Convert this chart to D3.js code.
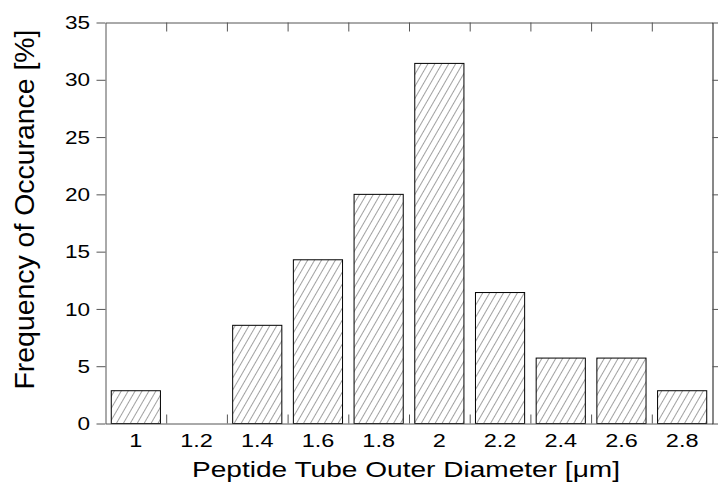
<!DOCTYPE html>
<html>
<head>
<meta charset="utf-8">
<script src="https://cdn.jsdelivr.net/npm/d3@7"></script>
<style>
  body { margin: 0; background: #fff; }
  svg { display: block; font-family: "Liberation Sans", Arial, sans-serif; }
</style>
</head>
<body>
<svg id="chart" width="718" height="489"></svg>
<script>
// diameters (bin centres) and frequency in percent
var diameters = [1.0, 1.2, 1.4, 1.6, 1.8, 2.0, 2.2, 2.4, 2.6, 2.8];
var frequency = [2.86, 0, 8.57, 14.29, 20.0, 31.43, 11.43, 5.71, 5.71, 2.86];
var xTickLabels = ["1", "1.2", "1.4", "1.6", "1.8", "2", "2.2", "2.4", "2.6", "2.8"];
var yTicks = [0, 5, 10, 15, 20, 25, 30, 35];

var plotLeft = 105.5, plotRight = 712.5, plotTop = 22.5, plotBottom = 423.5;
var stretch = 1.22; // the original tick text is wider than plain Arial

var svg = d3.select("#chart");

// hatch pattern for the bars
var defs = svg.append("defs");
defs.append("pattern")
    .attr("id", "hatch")
    .attr("patternUnits", "userSpaceOnUse")
    .attr("width", 6)
    .attr("height", 6)
    .attr("patternTransform", "rotate(30)")
  .append("line")
    .attr("x1", 0).attr("y1", 0)
    .attr("x2", 0).attr("y2", 6)
    .attr("stroke", "#444")
    .attr("stroke-width", 1);

var x = d3.scaleLinear().domain([0.9, 2.9]).range([plotLeft, plotRight]);
var y = d3.scaleLinear().domain([0, 35]).range([plotBottom, plotTop]);

var binW = x(1.1) - x(0.9);
var barW = binW * 0.81;

// bars
svg.selectAll(".bar")
    .data(diameters.map(function(d, i) { return { d: d, v: frequency[i] }; })
        .filter(function(d) { return d.v > 0; }))
    .enter().append("rect")
    .attr("class", "bar")
    .attr("x", function(d) { return x(d.d) - barW / 2; })
    .attr("y", function(d) { return y(d.v); })
    .attr("width", barW)
    .attr("height", function(d) { return y(0) - y(d.v); })
    .attr("fill", "url(#hatch)")
    .attr("stroke", "#000")
    .attr("stroke-width", 1);

// bin boundaries for x ticks
var boundaries = diameters.slice(0, -1).map(function(d) { return +(d + 0.1).toFixed(2); });

// frame axes (labels drawn separately)
var bottomAxis = d3.axisBottom(x).tickValues(boundaries).tickSizeInner(-9).tickSizeOuter(0).tickFormat("");
var topAxis = d3.axisTop(x).tickValues(boundaries).tickSizeInner(-9).tickSizeOuter(0).tickFormat("");
var leftAxis = d3.axisLeft(y).tickValues(yTicks).tickSizeInner(9).tickSizeOuter(0).tickFormat("");
var rightAxis = d3.axisRight(y).tickValues(yTicks).tickSizeInner(9).tickSizeOuter(0).tickFormat("");

function styleAxis(g) {
    g.select(".domain").attr("stroke", "#555");
    g.selectAll(".tick line").attr("stroke", "#555");
}

svg.append("g").attr("transform", "translate(0," + plotBottom + ")").call(bottomAxis).call(styleAxis);
svg.append("g").attr("transform", "translate(0," + plotTop + ")").call(topAxis).call(styleAxis);
svg.append("g").attr("transform", "translate(" + plotLeft + ",0)").call(leftAxis).call(styleAxis);
svg.append("g").attr("transform", "translate(" + plotRight + ",0)").call(rightAxis).call(styleAxis)
    .select(".domain").attr("stroke", "#111");

// y tick labels
svg.selectAll(".ylab")
    .data(yTicks)
    .enter().append("text")
    .attr("class", "ylab")
    .attr("transform", function(d) { return "translate(90," + y(d) + ") scale(" + stretch + ",1)"; })
    .attr("dy", "0.36em")
    .attr("text-anchor", "end")
    .attr("font-size", 18.5)
    .text(function(d) { return d; });

// x tick labels at bin centres
svg.selectAll(".xlab")
    .data(diameters)
    .enter().append("text")
    .attr("class", "xlab")
    .attr("transform", function(d) { return "translate(" + x(d) + "," + (plotBottom + 23) + ") scale(1.27,1)"; })
    .attr("text-anchor", "middle")
    .attr("font-size", 18.5)
    .text(function(d, i) { return xTickLabels[i]; });

// axis titles
svg.append("text")
    .attr("x", 406)
    .attr("y", 476.5)
    .attr("text-anchor", "middle")
    .attr("font-size", 22)
    .attr("textLength", 428)
    .attr("lengthAdjust", "spacingAndGlyphs")
    .text("Peptide Tube Outer Diameter [\u03bcm]");

svg.append("text")
    .attr("transform", "translate(33.5,209.5) rotate(-90)")
    .attr("text-anchor", "middle")
    .attr("font-size", 28.5)
    .attr("textLength", 360)
    .attr("lengthAdjust", "spacingAndGlyphs")
    .text("Frequency of Occurance [%]");
</script>
</body>
</html>
